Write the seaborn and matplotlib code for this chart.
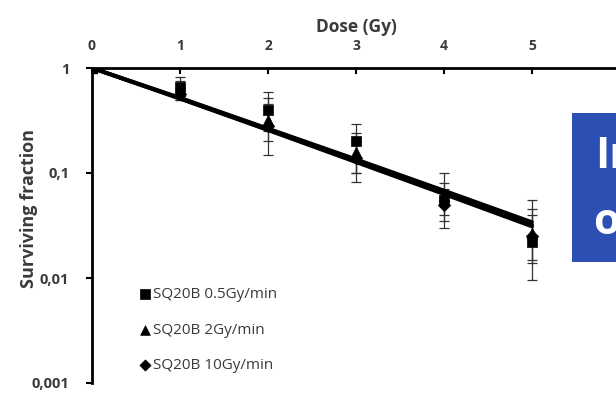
import numpy as np
import pandas as pd
import matplotlib
matplotlib.use("Agg")
import matplotlib.pyplot as plt
from matplotlib.patches import Rectangle
import seaborn as sns

# ---- data ----
doses = [0, 1, 2, 3, 4, 5]
series_names = ["SQ20B 0.5Gy/min", "SQ20B 2Gy/min", "SQ20B 10Gy/min"]

sf_05 = [1.0, 0.66, 0.40, 0.20, 0.055, 0.022]
lo_05 = [1.0, 0.50, 0.25, 0.10, 0.030, 0.0095]
hi_05 = [1.0, 0.82, 0.59, 0.29, 0.100, 0.055]

sf_2 = [1.0, 0.60, 0.32, 0.16, 0.060, 0.027]
lo_2 = [1.0, 0.52, 0.15, 0.082, 0.040, 0.015]
hi_2 = [1.0, 0.75, 0.52, 0.24, 0.080, 0.045]

sf_10 = [1.0, 0.56, 0.28, 0.14, 0.050, 0.025]
lo_10 = [1.0, 0.50, 0.20, 0.10, 0.035, 0.014]
hi_10 = [1.0, 0.65, 0.45, 0.20, 0.070, 0.040]

fit_05 = [1.0, 0.52, 0.265, 0.135, 0.068, 0.034]
fit_2 = [1.0, 0.515, 0.260, 0.130, 0.065, 0.032]
fit_10 = [1.0, 0.51, 0.256, 0.127, 0.063, 0.031]

x_ticks = [0, 1, 2, 3, 4, 5, 6]
y_ticks = [1, 0.1, 0.01, 0.001]
y_ticklabels = ["1", "0,1", "0,01", "0,001"]

sf_all = [sf_05, sf_2, sf_10]
lo_all = [lo_05, lo_2, lo_10]
hi_all = [hi_05, hi_2, hi_10]
fit_all = [fit_05, fit_2, fit_10]
markers = ["s", "^", "D"]
msizes = [55, 60, 40]

sns.set_style("white")
plt.rcParams["font.family"] = ["Open Sans", "DejaVu Sans"]

W, H = 616, 394
fig = plt.figure(figsize=(W / 100, H / 100), dpi=100)
ax_left, ax_right, ax_top, ax_bot = 92, 620, 68, 383
ax = fig.add_axes([ax_left / W, (H - ax_bot) / H, (ax_right - ax_left) / W, (ax_bot - ax_top) / H])

txt = "#3a3a3a"

for name, sf, lo, hi, fit, mk, ms in zip(series_names, sf_all, lo_all, hi_all, fit_all, markers, msizes):
    sf = np.array(sf); lo = np.array(lo); hi = np.array(hi)
    ax.errorbar(doses, sf, yerr=[sf - lo, hi - sf], fmt="none", ecolor="#333333",
                elinewidth=0.9, capsize=3.5, capthick=0.9, zorder=2)
    fdf = pd.DataFrame({"dose": doses, "fit": fit})
    sns.lineplot(data=fdf, x="dose", y="fit", ax=ax, color="black", linewidth=2.8,
                 zorder=3, legend=False)
    df = pd.DataFrame({"dose": doses, "sf": sf})
    sns.scatterplot(data=df, x="dose", y="sf", ax=ax, marker=mk, s=ms, color="black",
                    edgecolor="black", linewidth=0.5, zorder=4, label=name)

ax.set_yscale("log")
ax.set_xlim(0, 6)
ax.set_ylim(0.001, 1)
ax.set_yticks(y_ticks)
ax.set_yticklabels(y_ticklabels)
ax.yaxis.set_minor_locator(matplotlib.ticker.NullLocator())
ax.set_xticks(x_ticks)
ax.set_xticklabels([str(t) for t in x_ticks])

ax.xaxis.set_ticks_position("top")
ax.xaxis.set_label_position("top")
ax.tick_params(axis="x", direction="in", length=4, width=1.5, color="black",
               labelsize=10, labelcolor=txt, top=True, bottom=False, pad=11)
ax.tick_params(axis="y", direction="out", length=4, width=1.5, color="black",
               labelsize=10.5, labelcolor=txt, pad=12.5, left=True)
for lab in ax.get_xticklabels() + ax.get_yticklabels():
    lab.set_fontweight("bold")

for s in ["right", "bottom"]:
    ax.spines[s].set_visible(False)
for s in ["left", "top"]:
    ax.spines[s].set_visible(True)
    ax.spines[s].set_color("black")
    ax.spines[s].set_linewidth(2)

ax.set_xlabel("Dose (Gy)", fontsize=12.5, fontweight="bold", color=txt, labelpad=5)
ax.set_ylabel("Surviving fraction", fontsize=13, fontweight="bold", color=txt)
ax.yaxis.set_label_coords((38 - ax_left) / (ax_right - ax_left), (ax_bot - 209) / (ax_bot - ax_top))
ax.grid(False)

leg = ax.legend(loc="upper left", bbox_to_anchor=(131 / W, (H - 281) / H),
                bbox_transform=fig.transFigure, frameon=False, fontsize=11,
                labelspacing=1.35, handletextpad=0.05, handlelength=1.0,
                borderaxespad=0, markerscale=0.9)
for t in leg.get_texts():
    t.set_color(txt)

# partial blue overlay box on the right
fig.patches.append(Rectangle((572 / W, (H - 262) / H), (W - 572) / W + 0.01, 149 / H,
                             transform=fig.transFigure, facecolor="#2B4FB3",
                             edgecolor="none", zorder=10))
fig.text(595 / W, (H - 157) / H, "In", color="white", fontsize=31, fontweight="bold",
         va="center", ha="left", zorder=11, family=["Open Sans", "DejaVu Sans"])
fig.text(593 / W, (H - 222) / H, "o", color="white", fontsize=31, fontweight="bold",
         va="center", ha="left", zorder=11, family=["Open Sans", "DejaVu Sans"])

fig.savefig("out.png", dpi=100)
